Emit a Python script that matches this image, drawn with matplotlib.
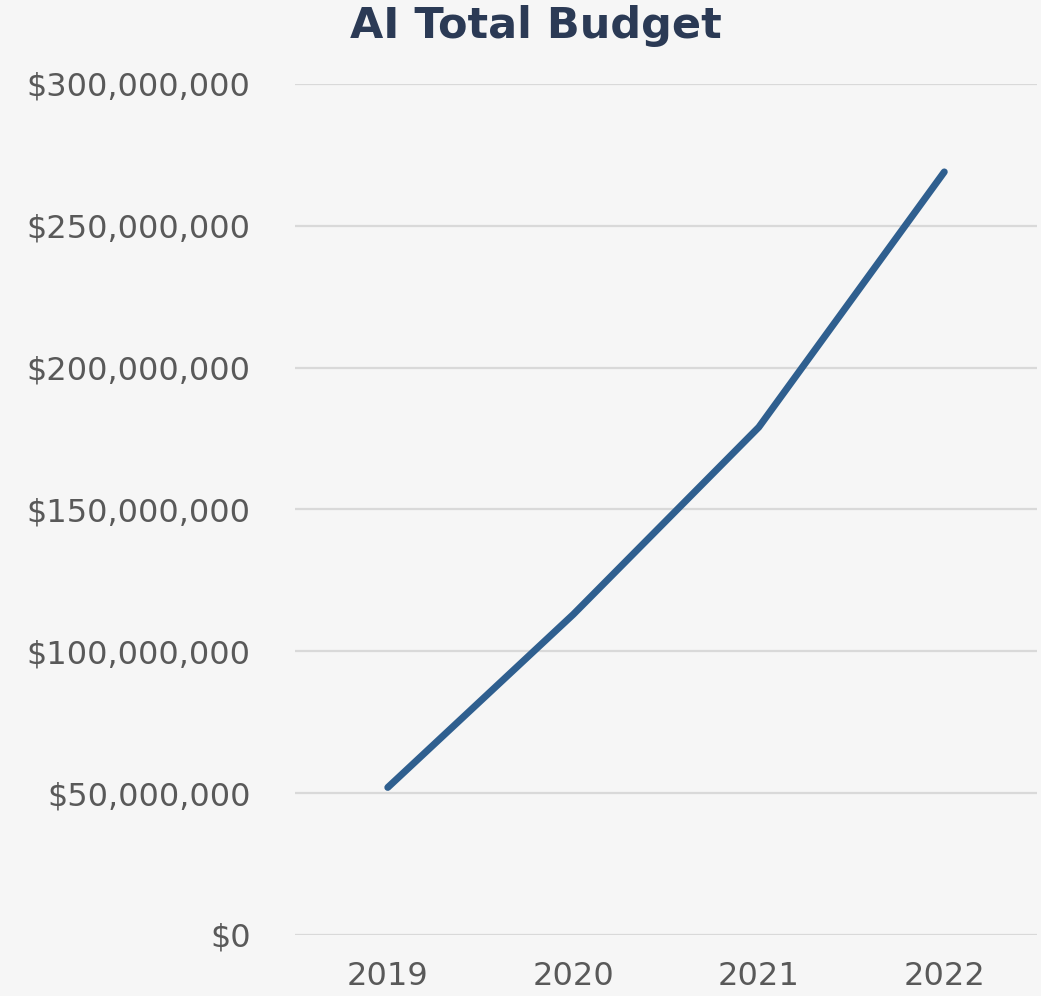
import numpy as np
import matplotlib.pyplot as plt
from matplotlib.ticker import FuncFormatter

years = ['2019', '2020', '2021', '2022']
budget = [52_000_000, 113_000_000, 179_000_000, 269_000_000]
yticks = [0, 50_000_000, 100_000_000, 150_000_000, 200_000_000, 250_000_000, 300_000_000]

plt.rcParams['font.family'] = ['DejaVu Sans']

fig = plt.figure(figsize=(10.41, 9.96), dpi=100)
fig.patch.set_facecolor('#f6f6f6')
ax = fig.add_axes([0.2834, 0.0613, 0.7128, 0.8544])
ax.set_facecolor('none')

x = np.arange(len(years))
ax.plot(x, budget, color='#2f5f8f', linewidth=5, solid_capstyle='round', zorder=3)

ax.set_xlim(-0.5, 3.5)
ax.set_ylim(0, 300_000_000)
ax.set_yticks(yticks)
ax.yaxis.set_major_formatter(FuncFormatter(lambda v, p: '${:,.0f}'.format(v)))
ax.set_xticks(x)
ax.set_xticklabels(years)
ax.grid(axis='y', color='#d9d9d9', linewidth=1.6)
ax.set_axisbelow(True)
for s in ax.spines.values():
    s.set_visible(False)
ax.tick_params(axis='both', length=0, labelsize=23, labelcolor='#595959')
ax.tick_params(axis='y', pad=32)
ax.tick_params(axis='x', pad=19)

fig.text(536 / 1041, 1 - 26 / 996, 'AI Total Budget', ha='center', va='center',
         fontsize=31, fontweight='bold', color='#2b3a55')

fig.savefig('out.png', dpi=100, facecolor=fig.get_facecolor())
